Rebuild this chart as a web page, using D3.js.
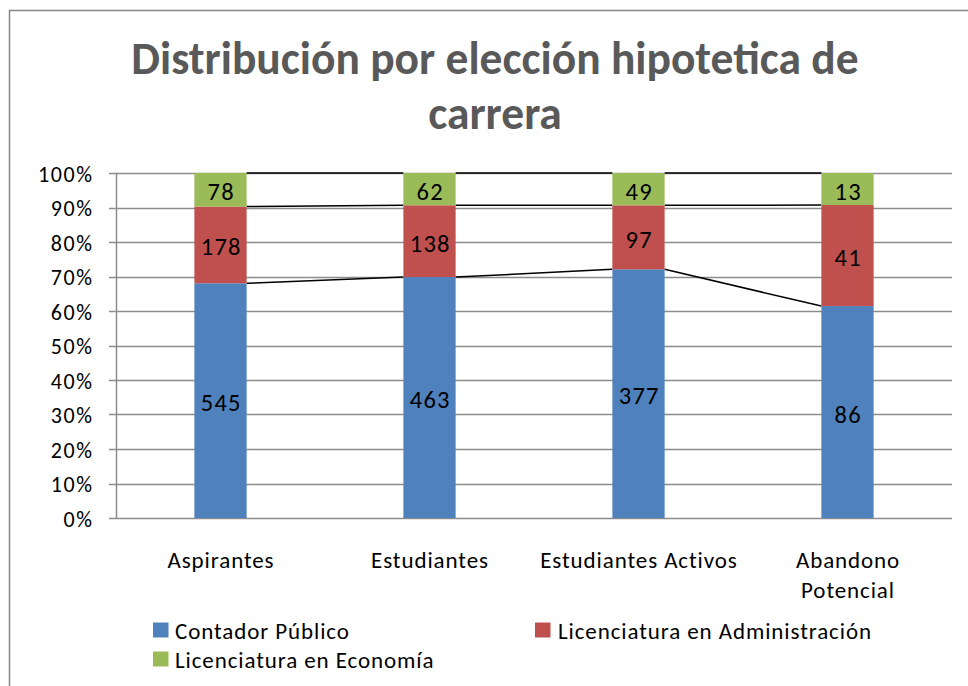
<!DOCTYPE html>
<html><head><meta charset="utf-8">
<script src="https://cdn.jsdelivr.net/npm/d3@7"></script>
<style>body{margin:0;background:#fff}svg{display:block}</style>
</head><body>
<script>
const categories = [["Aspirantes"],["Estudiantes"],["Estudiantes Activos"],["Abandono","Potencial"]];
const seriesNames = ["Contador Público","Licenciatura en Administración","Licenciatura en Economía"];
const contador = [545,463,377,86];
const administracion = [178,138,97,41];
const economia = [78,62,49,13];
const yTicks = [0,0.1,0.2,0.3,0.4,0.5,0.6,0.7,0.8,0.9,1];
const colors = ["#4f81bd","#c0504d","#9bbb59"];

const W=968,H=686;
const font = "Carlito, Calibri, 'Liberation Sans Narrow', 'Noto Sans', sans-serif";
const svg = d3.select("body").append("svg").attr("width",W).attr("height",H);
svg.append("rect").attr("x",9.5).attr("y",10.5).attr("width",W+10).attr("height",H+10)
  .attr("fill","#fff").attr("stroke","#878787").attr("stroke-width",1.5);

const titleLines = ["Distribución por elección hipotetica de","carrera"];
titleLines.forEach((t,j)=>{
  svg.append("text").attr("x",495).attr("y",74+j*54.5).attr("text-anchor","middle")
    .attr("font-family",font).attr("font-weight","bold").attr("font-size",45.5).attr("fill","#595959")
    .text(t);
});

const x0=116,x1=952,yTop=173,yBot=518;
const x = d3.scaleBand().domain(categories.map((d,i)=>i)).range([x0,x1]).paddingInner(0).paddingOuter(0);
const y = d3.scaleLinear().domain([0,1]).range([yBot,yTop]);

const rows = categories.map((c,i)=>({i, v:[contador[i],administracion[i],economia[i]]}));
const stackData = rows.map(r=>{const t=d3.sum(r.v);return {i:r.i, s0:r.v[0]/t, s1:r.v[1]/t, s2:r.v[2]/t, raw:r.v};});
const stack = d3.stack().keys(["s0","s1","s2"])(stackData);

// gridlines + ticks
const g = svg.append("g");
g.selectAll("line.grid").data(yTicks).join("line")
  .attr("x1",x0-7).attr("x2",x1).attr("y1",d=>Math.round(y(d))+0.5).attr("y2",d=>Math.round(y(d))+0.5)
  .attr("stroke","#8c8c8c").attr("stroke-width",1.5);
g.append("line").attr("x1",x0+0.5).attr("x2",x0+0.5).attr("y1",yTop).attr("y2",yBot+1)
  .attr("stroke","#8c8c8c").attr("stroke-width",1.5);
g.selectAll("text.yt").data(yTicks).join("text")
  .attr("x",93.5).attr("y",d=>y(d)+8.5).attr("text-anchor","end")
  .attr("font-family",font).attr("font-size",22).attr("letter-spacing",1.6).attr("fill","#000")
  .text(d=>Math.round(d*100)+"%");

const bw = x.bandwidth()*0.25;
const bx = i => x(i)+x.bandwidth()/2-bw/2;

// series lines
stack.forEach((layer)=>{
  for(let i=0;i<layer.length-1;i++){
    svg.append("line").attr("x1",bx(i)+bw).attr("x2",bx(i+1))
      .attr("y1",y(layer[i][1])).attr("y2",y(layer[i+1][1]))
      .attr("stroke","#000").attr("stroke-width",1.5);
  }
});

stack.forEach((layer,k)=>{
  svg.append("g").selectAll("rect").data(layer).join("rect")
    .attr("x",(d,i)=>bx(i)).attr("width",bw)
    .attr("y",d=>y(d[1])).attr("height",d=>y(d[0])-y(d[1]))
    .attr("fill",colors[k]);
  svg.append("g").selectAll("text").data(layer).join("text")
    .attr("x",(d,i)=>bx(i)+bw/2+0.7).attr("y",d=>(y(d[0])+y(d[1]))/2+10.5)
    .attr("text-anchor","middle").attr("font-family",font).attr("font-size",24.5)
    .attr("letter-spacing",1.2).attr("fill","#000")
    .text((d,i)=>stackData[i].raw[k]);
});

// x labels
categories.forEach((lines,i)=>{
  lines.forEach((t,j)=>{
    svg.append("text").attr("x",x(i)+x.bandwidth()/2+0.5).attr("y",568+j*29.5)
      .attr("text-anchor","middle").attr("font-family",font).attr("font-size",23)
      .attr("letter-spacing",0.9).attr("fill","#000").text(t);
  });
});

// legend
const leg = [{x:153,y:622.5},{x:535,y:622.5},{x:153,y:651.5}];
seriesNames.forEach((n,k)=>{
  svg.append("rect").attr("x",leg[k].x).attr("y",leg[k].y).attr("width",15.5).attr("height",15).attr("fill",colors[k]);
  svg.append("text").attr("x",leg[k].x+(k===1?23:22)).attr("y",leg[k].y+16).attr("font-family",font)
    .attr("font-size",23).attr("letter-spacing",0.9).attr("fill","#000").text(n);
});
</script>
</body></html>
